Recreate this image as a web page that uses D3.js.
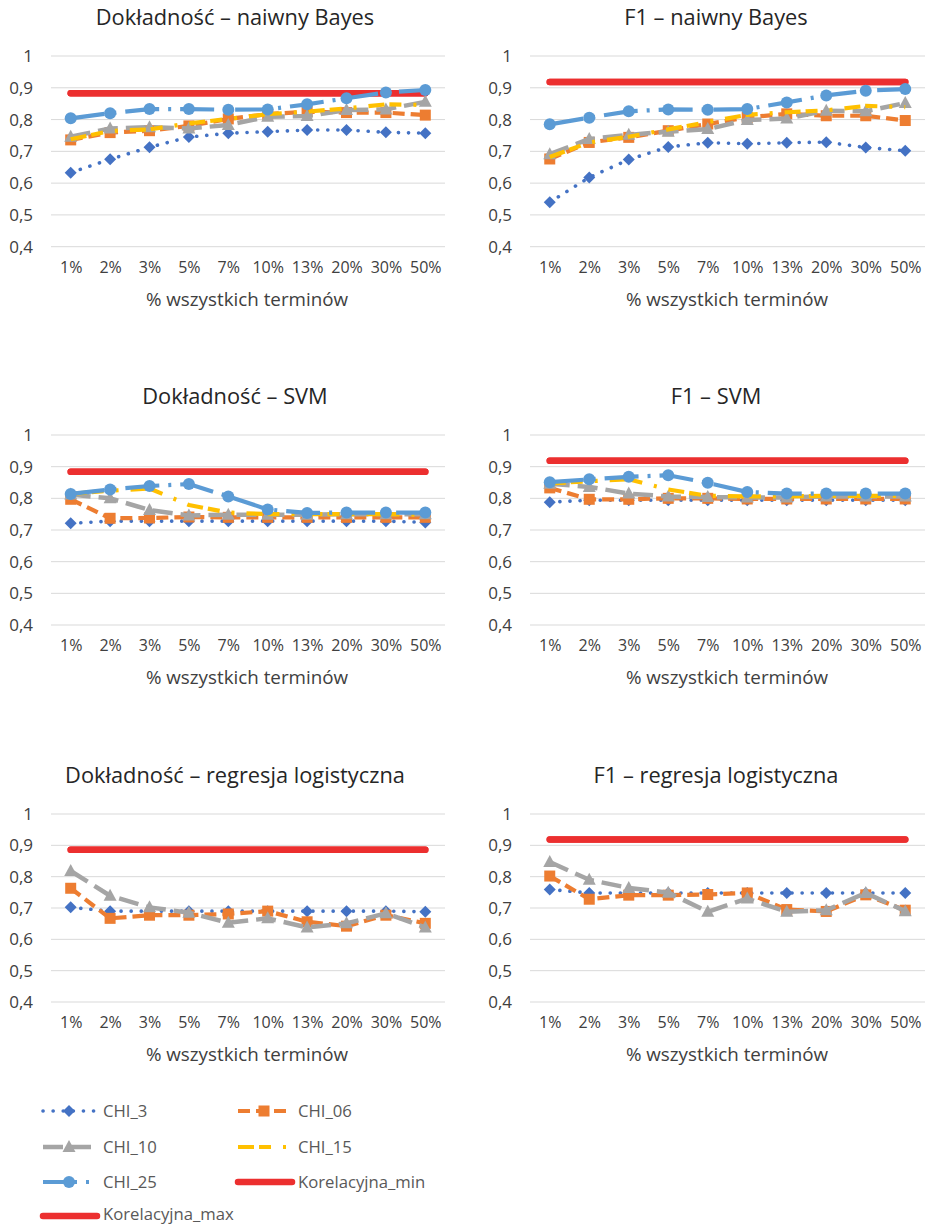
<!DOCTYPE html>
<html>
<head>
<meta charset="utf-8">
<script src="https://cdn.jsdelivr.net/npm/d3@7"></script>
<style>
  html, body { margin: 0; padding: 0; background: #fff; }
  svg { display: block; }
  text { font-family: "Open Sans", "Noto Sans", sans-serif; }
</style>
</head>
<body>
<svg id="chart" width="925" height="1226"></svg>
<script>
// ---------- DATA ----------
const categories = ["1%", "2%", "3%", "5%", "7%", "10%", "13%", "20%", "30%", "50%"];
const yTicks = [0.4, 0.5, 0.6, 0.7, 0.8, 0.9, 1];
const seriesNames = ["CHI_3", "CHI_06", "CHI_10", "CHI_15", "CHI_25", "Korelacyjna_min", "Korelacyjna_max"];

// Dokładność – naiwny Bayes
const accNB_CHI_3  = [0.633, 0.675, 0.713, 0.745, 0.757, 0.762, 0.767, 0.767, 0.760, 0.757];
const accNB_CHI_06 = [0.736, 0.759, 0.765, 0.780, 0.802, 0.817, 0.825, 0.822, 0.822, 0.814];
const accNB_CHI_10 = [0.746, 0.772, 0.776, 0.772, 0.783, 0.809, 0.811, 0.830, 0.832, 0.856];
const accNB_CHI_15 = [0.738, 0.764, 0.769, 0.788, 0.802, 0.817, 0.825, 0.835, 0.848, 0.846];
const accNB_CHI_25 = [0.804, 0.820, 0.833, 0.833, 0.831, 0.832, 0.848, 0.867, 0.885, 0.893];
const accNB_KorMin = [0.883, 0.883, 0.883, 0.883, 0.883, 0.883, 0.883, 0.883, 0.883, 0.883];
const accNB_KorMax = [0.883, 0.883, 0.883, 0.883, 0.883, 0.883, 0.883, 0.883, 0.883, 0.883];

// F1 – naiwny Bayes
const f1NB_CHI_3  = [0.540, 0.618, 0.674, 0.714, 0.727, 0.724, 0.727, 0.729, 0.712, 0.702];
const f1NB_CHI_06 = [0.676, 0.728, 0.744, 0.765, 0.786, 0.807, 0.818, 0.812, 0.812, 0.797];
const f1NB_CHI_10 = [0.691, 0.739, 0.752, 0.762, 0.770, 0.799, 0.803, 0.828, 0.826, 0.852];
const f1NB_CHI_15 = [0.682, 0.728, 0.746, 0.769, 0.792, 0.815, 0.823, 0.829, 0.843, 0.839];
const f1NB_CHI_25 = [0.785, 0.806, 0.826, 0.832, 0.831, 0.833, 0.854, 0.876, 0.891, 0.896];
const f1NB_KorMin = [0.918, 0.918, 0.918, 0.918, 0.918, 0.918, 0.918, 0.918, 0.918, 0.918];
const f1NB_KorMax = [0.918, 0.918, 0.918, 0.918, 0.918, 0.918, 0.918, 0.918, 0.918, 0.918];

// Dokładność – SVM
const accSVM_CHI_3  = [0.721, 0.728, 0.728, 0.728, 0.728, 0.728, 0.728, 0.728, 0.728, 0.724];
const accSVM_CHI_06 = [0.797, 0.737, 0.738, 0.741, 0.740, 0.740, 0.740, 0.740, 0.740, 0.740];
const accSVM_CHI_10 = [0.812, 0.800, 0.763, 0.746, 0.748, 0.748, 0.748, 0.750, 0.750, 0.750];
const accSVM_CHI_15 = [0.814, 0.824, 0.831, 0.779, 0.755, 0.750, 0.750, 0.750, 0.750, 0.748];
const accSVM_CHI_25 = [0.814, 0.828, 0.839, 0.845, 0.806, 0.765, 0.754, 0.755, 0.755, 0.755];
const accSVM_KorMin = [0.884, 0.884, 0.884, 0.884, 0.884, 0.884, 0.884, 0.884, 0.884, 0.884];
const accSVM_KorMax = [0.884, 0.884, 0.884, 0.884, 0.884, 0.884, 0.884, 0.884, 0.884, 0.884];

// F1 – SVM
const f1SVM_CHI_3  = [0.788, 0.794, 0.794, 0.794, 0.794, 0.794, 0.794, 0.794, 0.794, 0.794];
const f1SVM_CHI_06 = [0.833, 0.797, 0.797, 0.800, 0.800, 0.798, 0.798, 0.798, 0.798, 0.798];
const f1SVM_CHI_10 = [0.846, 0.836, 0.815, 0.806, 0.804, 0.803, 0.803, 0.806, 0.806, 0.806];
const f1SVM_CHI_15 = [0.847, 0.854, 0.860, 0.828, 0.808, 0.806, 0.806, 0.808, 0.808, 0.808];
const f1SVM_CHI_25 = [0.851, 0.860, 0.868, 0.873, 0.849, 0.820, 0.815, 0.815, 0.815, 0.815];
const f1SVM_KorMin = [0.919, 0.919, 0.919, 0.919, 0.919, 0.919, 0.919, 0.919, 0.919, 0.919];
const f1SVM_KorMax = [0.919, 0.919, 0.919, 0.919, 0.919, 0.919, 0.919, 0.919, 0.919, 0.919];

// Dokładność – regresja logistyczna
const accLR_CHI_3  = [0.702, 0.690, 0.690, 0.690, 0.690, 0.690, 0.690, 0.690, 0.690, 0.688];
const accLR_CHI_06 = [0.763, 0.667, 0.677, 0.677, 0.681, 0.690, 0.656, 0.642, 0.677, 0.651];
const accLR_CHI_10 = [0.818, 0.739, 0.702, 0.685, 0.653, 0.667, 0.638, 0.651, 0.683, 0.638];
const accLR_KorMin = [0.886, 0.886, 0.886, 0.886, 0.886, 0.886, 0.886, 0.886, 0.886, 0.886];
const accLR_KorMax = [0.886, 0.886, 0.886, 0.886, 0.886, 0.886, 0.886, 0.886, 0.886, 0.886];

// F1 – regresja logistyczna
const f1LR_CHI_3  = [0.759, 0.748, 0.748, 0.748, 0.748, 0.748, 0.748, 0.748, 0.748, 0.748];
const f1LR_CHI_06 = [0.802, 0.728, 0.741, 0.741, 0.743, 0.748, 0.695, 0.689, 0.742, 0.693];
const f1LR_CHI_10 = [0.847, 0.790, 0.764, 0.749, 0.688, 0.730, 0.688, 0.693, 0.748, 0.690];
const f1LR_KorMin = [0.919, 0.919, 0.919, 0.919, 0.919, 0.919, 0.919, 0.919, 0.919, 0.919];
const f1LR_KorMax = [0.919, 0.919, 0.919, 0.919, 0.919, 0.919, 0.919, 0.919, 0.919, 0.919];

const panelTitles = [
  "Dokładność – naiwny Bayes", "F1 – naiwny Bayes",
  "Dokładność – SVM", "F1 – SVM",
  "Dokładność – regresja logistyczna", "F1 – regresja logistyczna"
];
const xAxisTitle = "% wszystkich terminów";

// ---------- STYLES ----------
const styles = {
  "CHI_3":  {color: "#4472C4", width: 3.6, dash: "0.1 10", cap: "round", marker: "diamond"},
  "CHI_06": {color: "#ED7D31", width: 4.2, dash: "12 6", cap: "butt", marker: "square"},
  "CHI_10": {color: "#A5A5A5", width: 4.5, dash: "20 8", cap: "butt", marker: "triangle"},
  "CHI_15": {color: "#FFC000", width: 4.2, dash: "16 5 12 12 3 12", cap: "butt", marker: null},
  "CHI_25": {color: "#5B9BD5", width: 4.2, dash: "34 9 3 9", cap: "butt", marker: "circle"},
  "Korelacyjna_min": {color: "#EC2F2F", width: 6.5, dash: null, cap: "round", marker: null},
  "Korelacyjna_max": {color: "#EC2F2F", width: 6.5, dash: null, cap: "round", marker: null}
};

const panels = [
  {title: panelTitles[0], col: 0, row: 0, series: {"CHI_3": accNB_CHI_3, "CHI_06": accNB_CHI_06, "CHI_10": accNB_CHI_10, "CHI_15": accNB_CHI_15, "CHI_25": accNB_CHI_25, "Korelacyjna_min": accNB_KorMin, "Korelacyjna_max": accNB_KorMax}},
  {title: panelTitles[1], col: 1, row: 0, series: {"CHI_3": f1NB_CHI_3, "CHI_06": f1NB_CHI_06, "CHI_10": f1NB_CHI_10, "CHI_15": f1NB_CHI_15, "CHI_25": f1NB_CHI_25, "Korelacyjna_min": f1NB_KorMin, "Korelacyjna_max": f1NB_KorMax}},
  {title: panelTitles[2], col: 0, row: 1, series: {"CHI_3": accSVM_CHI_3, "CHI_06": accSVM_CHI_06, "CHI_10": accSVM_CHI_10, "CHI_15": accSVM_CHI_15, "CHI_25": accSVM_CHI_25, "Korelacyjna_min": accSVM_KorMin, "Korelacyjna_max": accSVM_KorMax}},
  {title: panelTitles[3], col: 1, row: 1, series: {"CHI_3": f1SVM_CHI_3, "CHI_06": f1SVM_CHI_06, "CHI_10": f1SVM_CHI_10, "CHI_15": f1SVM_CHI_15, "CHI_25": f1SVM_CHI_25, "Korelacyjna_min": f1SVM_KorMin, "Korelacyjna_max": f1SVM_KorMax}},
  {title: panelTitles[4], col: 0, row: 2, series: {"CHI_3": accLR_CHI_3, "CHI_06": accLR_CHI_06, "CHI_10": accLR_CHI_10, "Korelacyjna_min": accLR_KorMin, "Korelacyjna_max": accLR_KorMax}},
  {title: panelTitles[5], col: 1, row: 2, series: {"CHI_3": f1LR_CHI_3, "CHI_06": f1LR_CHI_06, "CHI_10": f1LR_CHI_10, "Korelacyjna_min": f1LR_KorMin, "Korelacyjna_max": f1LR_KorMax}}
];

// ---------- LAYOUT ----------
const colX = [[51, 445], [530, 925]];
const rowY = [[56, 246.7], [435, 625], [814, 1002]];
const titleCX = [235, 716];
const axisTitleCX = [247, 727];
const drawOrder = ["Korelacyjna_min", "Korelacyjna_max", "CHI_3", "CHI_06", "CHI_10", "CHI_15", "CHI_25"];
const FONT = "'Open Sans', 'Noto Sans', sans-serif";

const svg = d3.select("#chart");

function drawMarker(g, type, x, y, color) {
  if (!type) return;
  if (type === "diamond") {
    g.append("path").attr("d", `M${x},${y-6}L${x+6},${y}L${x},${y+6}L${x-6},${y}Z`).attr("fill", color);
  } else if (type === "square") {
    g.append("rect").attr("x", x-5.5).attr("y", y-5.5).attr("width", 11).attr("height", 11).attr("fill", color);
  } else if (type === "triangle") {
    g.append("path").attr("d", `M${x},${y-7}L${x+6.5},${y+5}L${x-6.5},${y+5}Z`).attr("fill", color);
  } else if (type === "circle") {
    g.append("circle").attr("cx", x).attr("cy", y).attr("r", 6).attr("fill", color);
  }
}

panels.forEach(p => {
  const [x0, x1] = colX[p.col];
  const [yTop, yBot] = rowY[p.row];
  const x = d3.scalePoint().domain(categories).range([x0, x1]).padding(0.5);
  const y = d3.scaleLinear().domain([0.4, 1]).range([yBot, yTop]);
  const g = svg.append("g");

  // gridlines
  g.append("g").selectAll("line").data(yTicks).join("line")
    .attr("x1", x0).attr("x2", x1)
    .attr("y1", d => y(d)).attr("y2", d => y(d))
    .attr("stroke", "#D9D9D9").attr("stroke-width", 1);

  // y axis labels
  const yAxis = d3.axisLeft(y).tickValues(yTicks).tickSize(0).tickPadding(0)
    .tickFormat(d => d === 1 ? "1" : d3.format(".1f")(d).replace(".", ","));
  const ya = g.append("g").attr("transform", `translate(${x0 - 18},0)`).call(yAxis);
  ya.select(".domain").remove();
  ya.selectAll("text").attr("font-size", 17).attr("fill", "#404040").attr("font-family", FONT);

  // x axis labels
  const xAxis = d3.axisBottom(x).tickSize(0).tickPadding(0);
  const xa = g.append("g").attr("transform", `translate(0,${yBot + 15})`).call(xAxis);
  xa.select(".domain").remove();
  xa.selectAll("text").attr("font-size", 16).attr("fill", "#404040").attr("font-family", FONT);

  // axis title
  g.append("text").attr("x", axisTitleCX[p.col]).attr("y", yBot + 59)
    .attr("text-anchor", "middle").attr("font-size", 18.8).attr("fill", "#404040").text(xAxisTitle);

  // panel title
  g.append("text").attr("x", titleCX[p.col]).attr("y", yTop - 31)
    .attr("text-anchor", "middle").attr("font-size", 21.8).attr("fill", "#262626").text(p.title);

  // series
  drawOrder.forEach(name => {
    const vals = p.series[name];
    if (!vals) return;
    const st = styles[name];
    const line = d3.line().defined(d => d != null).x((d, i) => x(categories[i])).y(d => y(d));
    g.append("path").datum(vals).attr("d", line)
      .attr("fill", "none").attr("stroke", st.color).attr("stroke-width", st.width)
      .attr("stroke-dasharray", st.dash).attr("stroke-linecap", st.cap).attr("stroke-linejoin", "round");
    const mg = g.append("g");
    vals.forEach((v, i) => { if (v != null) drawMarker(mg, st.marker, x(categories[i]), y(v), st.color); });
  });
});

// ---------- LEGEND ----------
const legendItems = [
  {name: "CHI_3", lx: 43, ly: 1111}, {name: "CHI_06", lx: 238, ly: 1111},
  {name: "CHI_10", lx: 43, ly: 1147}, {name: "CHI_15", lx: 238, ly: 1147},
  {name: "CHI_25", lx: 43, ly: 1182}, {name: "Korelacyjna_min", lx: 238, ly: 1182},
  {name: "Korelacyjna_max", lx: 43, ly: 1216}
];
const lg = svg.append("g");
legendItems.forEach((it, i) => {
  const st = styles[it.name];
  const len = 54;
  lg.append("line").attr("x1", it.lx).attr("x2", it.lx + len).attr("y1", it.ly).attr("y2", it.ly)
    .attr("stroke", st.color).attr("stroke-width", st.width)
    .attr("stroke-dasharray", st.dash).attr("stroke-linecap", st.cap);
  drawMarker(lg, st.marker, it.lx + len / 2 - 1, it.ly, st.color);
  lg.append("text").attr("x", it.lx + 60).attr("y", it.ly).attr("dy", i === 6 ? "0.25em" : "0.35em")
    .attr("font-size", 16.7).attr("fill", "#595959").text(it.name);
});
</script>
</body>
</html>
